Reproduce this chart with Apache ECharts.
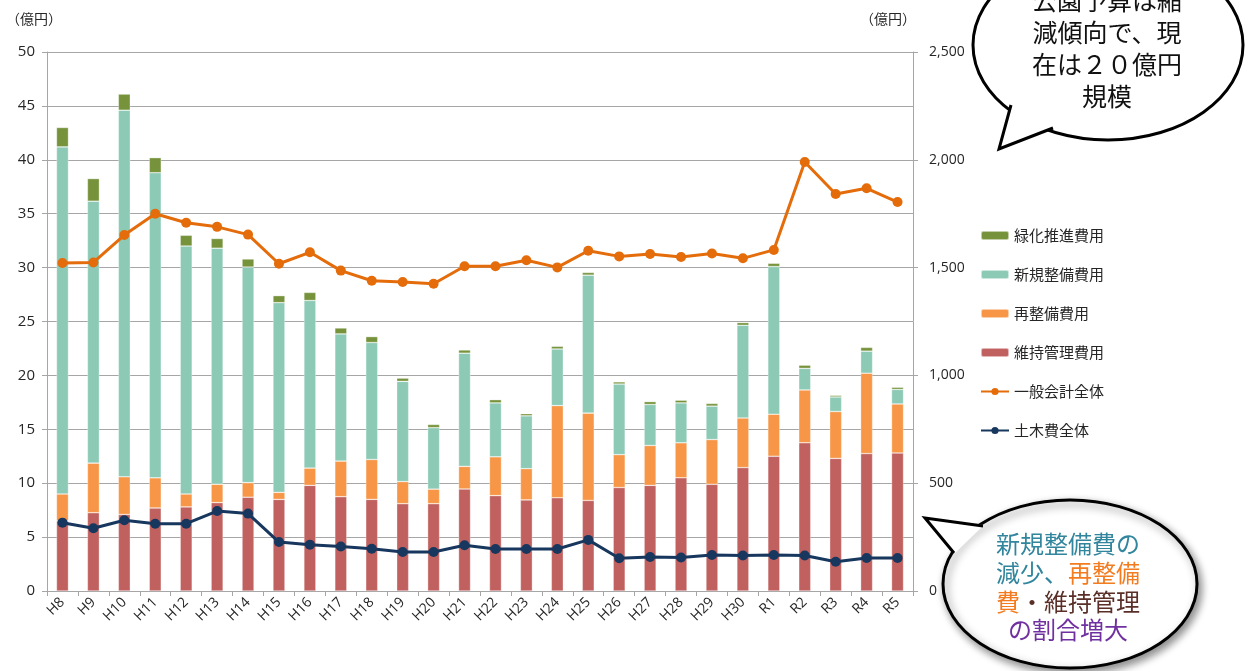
<!DOCTYPE html>
<html><head><meta charset="utf-8">
<script src="https://cdn.jsdelivr.net/npm/echarts@6/dist/echarts.min.js"></script>
<style>html,body{margin:0;padding:0;background:#fff}#c{width:1246px;height:671px}</style>
</head><body><div id="c"></div>
<script>
const categories = ['H8','H9','H10','H11','H12','H13','H14','H15','H16','H17','H18','H19','H20','H21','H22','H23','H24','H25','H26','H27','H28','H29','H30','R1','R2','R3','R4','R5'];
const maintenance = [6.5,7.26,7.1,7.7,7.8,8.2,8.7,8.5,9.8,8.75,8.5,8.1,8.1,9.46,8.85,8.45,8.65,8.4,9.6,9.8,10.5,9.9,11.45,12.5,13.75,12.3,12.75,12.8];
const redevelopment = [2.5,4.6,3.5,2.8,1.2,1.7,1.35,0.65,1.6,3.3,3.7,2.05,1.35,2.1,3.6,2.9,8.55,8.1,3.05,3.7,3.25,4.15,4.6,3.9,4.9,4.35,7.45,4.55];
const newDevelopment = [32.2,24.3,34.0,28.3,23.0,21.9,20.0,17.6,15.55,11.8,10.85,9.3,5.7,10.5,5.0,4.9,5.25,12.8,6.55,3.8,3.7,3.1,8.6,13.7,2.0,1.35,2.05,1.35];
const greening = [1.8,2.1,1.5,1.4,1.0,0.9,0.75,0.65,0.75,0.55,0.55,0.3,0.3,0.3,0.3,0.2,0.25,0.25,0.2,0.27,0.25,0.25,0.25,0.3,0.3,0.15,0.35,0.2];
const generalAccount = [1521,1524,1651,1750,1708,1689,1653,1518,1571,1486,1439,1433,1425,1506,1506,1534,1501,1578,1552,1563,1549,1565,1543,1582,1990,1841,1868,1804];
const civilEngineering = [317,291,328,312,312,371,359,227,215,206,196,181,181,212,195,195,195,237,152,158,155,167,165,167,165,136,153,153];
const leftTicks = {min:0, max:50, interval:5};
const rightTicks = {min:0, max:2500, interval:500};

const FONT = '"Noto Sans CJK JP", "Noto Sans", sans-serif';
const NUMFONT = '"Open Sans", "Noto Sans", sans-serif';
const chart = echarts.init(document.getElementById('c'), null, {renderer:'canvas'});
const barBorder = {borderColor:'rgba(255,255,255,0.55)', borderWidth:0.6};
const barW = 12;
chart.setOption({
  animation:false,
  textStyle:{fontFamily:FONT},
  grid:{left:47, right:333, top:52, bottom:80, containLabel:false},
  legend:{
    orient:'vertical', left:975, top:223, itemGap:24, itemWidth:28, itemHeight:9,
    textStyle:{fontSize:15, color:'#262626', fontFamily:FONT},
    data:['緑化推進費用','新規整備費用','再整備費用','維持管理費用','一般会計全体','土木費全体']
  },
  xAxis:{
    type:'category', data:categories,
    axisLine:{lineStyle:{color:'#A6A6A6', width:1}},
    axisTick:{show:true, alignWithLabel:false, length:5, lineStyle:{color:'#A6A6A6'}},
    axisLabel:{rotate:45, fontSize:14, color:'#262626', margin:9, fontFamily:NUMFONT}
  },
  yAxis:[
    {type:'value', min:leftTicks.min, max:leftTicks.max, interval:leftTicks.interval,
     axisLine:{show:true, lineStyle:{color:'#A6A6A6'}},
     axisTick:{show:true, length:5, lineStyle:{color:'#A6A6A6'}},
     splitLine:{lineStyle:{color:'#A6A6A6', width:1}},
     axisLabel:{fontSize:15, color:'#262626', margin:12, fontFamily:NUMFONT}},
    {type:'value', min:rightTicks.min, max:rightTicks.max, interval:rightTicks.interval,
     axisLine:{show:true, lineStyle:{color:'#A6A6A6'}},
     axisTick:{show:true, length:5, lineStyle:{color:'#A6A6A6'}},
     splitLine:{show:false},
     axisLabel:{fontSize:14, color:'#262626', margin:16, fontFamily:NUMFONT,
       formatter:v=>v.toLocaleString('en-US')}}
  ],
  series:[
    {name:'維持管理費用', type:'bar', stack:'a', data:maintenance, barWidth:barW, itemStyle:Object.assign({color:'#C0615F'},barBorder)},
    {name:'再整備費用', type:'bar', stack:'a', data:redevelopment, barWidth:barW, itemStyle:Object.assign({color:'#F79646'},barBorder)},
    {name:'新規整備費用', type:'bar', stack:'a', data:newDevelopment, barWidth:barW, itemStyle:Object.assign({color:'#8CCAB6'},barBorder)},
    {name:'緑化推進費用', type:'bar', stack:'a', data:greening, barWidth:barW, itemStyle:Object.assign({color:'#76933C'},barBorder)},
    {name:'一般会計全体', type:'line', yAxisIndex:1, data:generalAccount, symbol:'circle', symbolSize:10, z:5,
      lineStyle:{color:'#E46C0A', width:3}, itemStyle:{color:'#E46C0A'}},
    {name:'土木費全体', type:'line', yAxisIndex:1, data:civilEngineering, symbol:'circle', symbolSize:10, z:5,
      lineStyle:{color:'#17375E', width:3}, itemStyle:{color:'#17375E'}}
  ],
  graphic:[
    {type:'text', left:6, top:12, style:{text:'（億円）', fontSize:14, fill:'#262626', fontFamily:FONT}},
    {type:'text', left:860, top:12, style:{text:'（億円）', fontSize:14, fill:'#262626', fontFamily:FONT}},
    // top bubble
    {type:'ellipse', z:100, shape:{cx:1108, cy:45, rx:135, ry:95}, style:{fill:'#fff', stroke:'#000', lineWidth:3}},
    {type:'polygon', z:101, shape:{points:[[1012,104],[999,149],[1054,127]]}, style:{fill:'#fff', stroke:null, lineWidth:0}},
    {type:'polyline', z:102, shape:{points:[[1011,105],[999,149],[1053,128]]}, style:{fill:null, stroke:'#000', lineWidth:3}},
    {type:'text', z:103, x:1107, y:0, style:{text:'公園予算は縮', fontSize:25, fill:'#111', textAlign:'center', textVerticalAlign:'middle', fontFamily:FONT}},
    {type:'text', z:103, x:1107, y:32, style:{text:'減傾向で、現', fontSize:25, fill:'#111', textAlign:'center', textVerticalAlign:'middle', fontFamily:FONT}},
    {type:'text', z:103, x:1107, y:64, style:{text:'在は２０億円', fontSize:25, fill:'#111', textAlign:'center', textVerticalAlign:'middle', fontFamily:FONT}},
    {type:'text', z:103, x:1107, y:96, style:{text:'規模', fontSize:25, fill:'#111', textAlign:'center', textVerticalAlign:'middle', fontFamily:FONT}},
    // bottom bubble
    {type:'ellipse', z:100, shape:{cx:1070, cy:584, rx:127, ry:84}, style:{fill:'#fff', stroke:'#000', lineWidth:3, shadowBlur:8, shadowColor:'rgba(0,0,0,0.45)', shadowOffsetX:3, shadowOffsetY:4}},
    {type:'polygon', z:101, shape:{points:[[955,553],[925,518],[984,525]]}, style:{fill:'#fff', stroke:null, lineWidth:0}},
    {type:'polyline', z:102, shape:{points:[[954,553],[925,518],[983,526]]}, style:{fill:null, stroke:'#000', lineWidth:3}},
    {type:'text', z:103, x:1068, y:544, style:{text:'{t|新規整備費の}', textAlign:'center', textVerticalAlign:'middle',
      rich:{t:{fontSize:24, fill:'#31859C', color:'#31859C', fontFamily:FONT}}}},
    {type:'text', z:103, x:1068, y:573, style:{text:'{t|減少、}{o|再整備}', textAlign:'center', textVerticalAlign:'middle',
      rich:{t:{fontSize:24, fill:'#31859C', color:'#31859C', fontFamily:FONT}, o:{fontSize:24, fill:'#F47C20', color:'#F47C20', fontFamily:FONT}}}},
    {type:'text', z:103, x:1068, y:602, style:{text:'{o|費}{b|・維持管理}', textAlign:'center', textVerticalAlign:'middle',
      rich:{o:{fontSize:24, fill:'#F47C20', color:'#F47C20', fontFamily:FONT}, b:{fontSize:24, fill:'#5A2F28', color:'#5A2F28', fontFamily:FONT}}}},
    {type:'text', z:103, x:1068, y:630, style:{text:'{p|の割合増大}', textAlign:'center', textVerticalAlign:'middle',
      rich:{p:{fontSize:24, fill:'#7030A0', color:'#7030A0', fontFamily:FONT}}}}
  ]
});
</script></body></html>
